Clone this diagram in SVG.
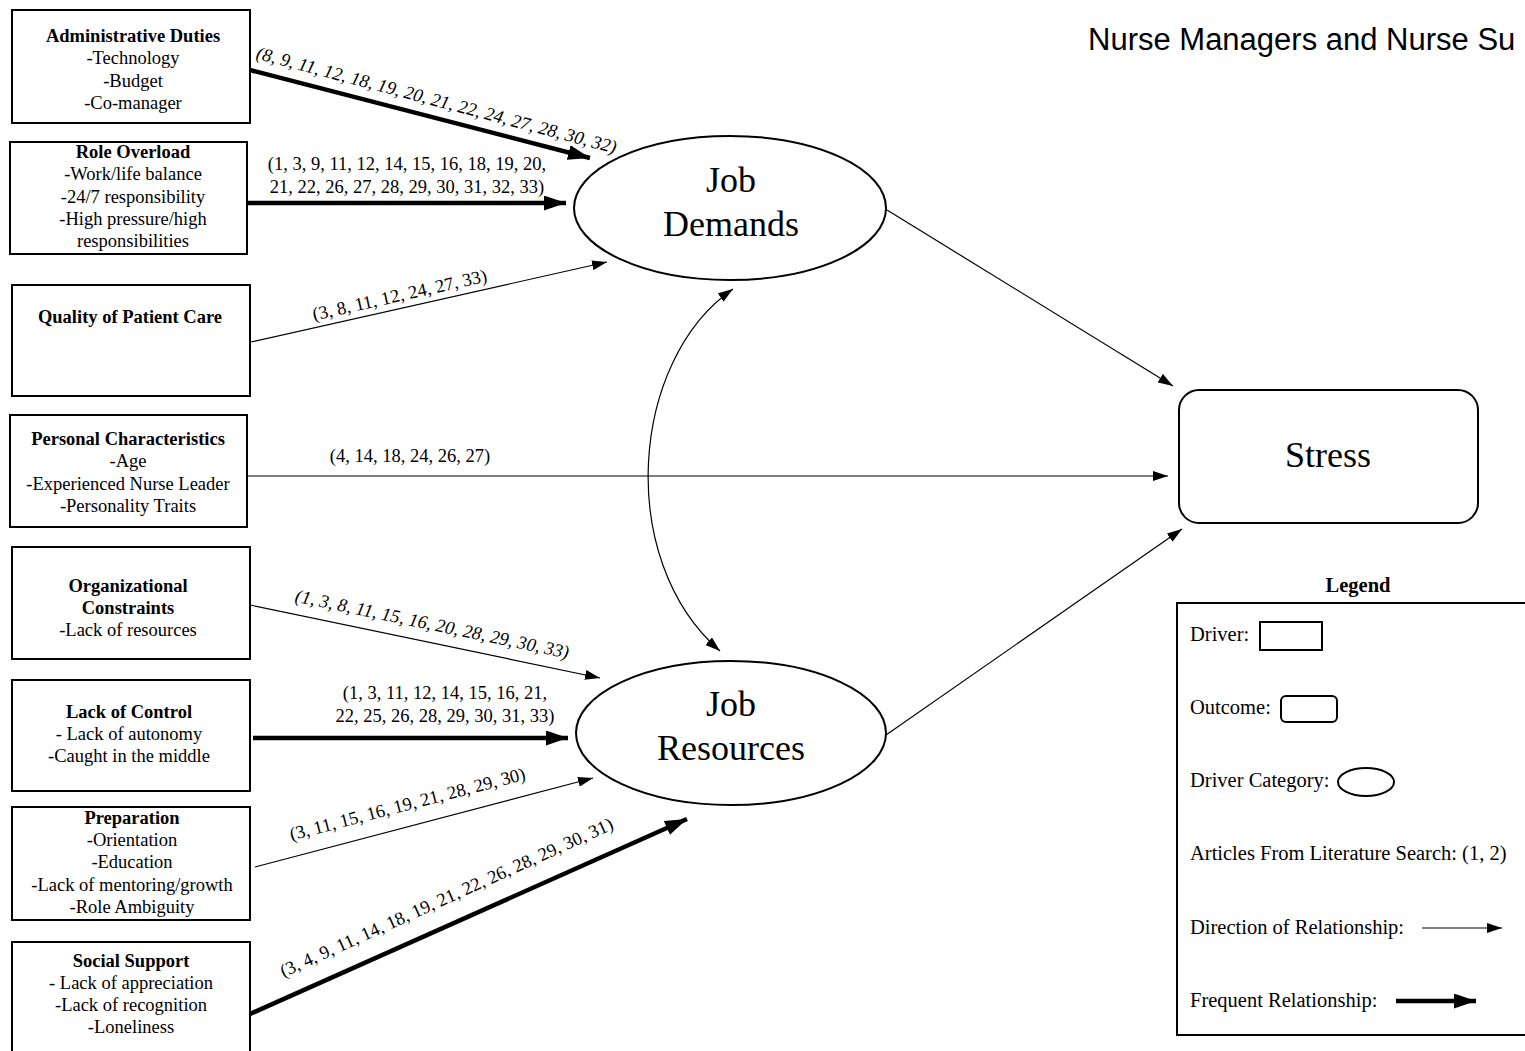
<svg xmlns="http://www.w3.org/2000/svg" width="1525" height="1051" viewBox="0 0 1525 1051">
<style>
  .box { fill: #fff; stroke: #000; stroke-width: 2; }
  .t { font-family: "Liberation Serif", "Times New Roman", serif; font-size: 18.5px; fill: #000; text-anchor: middle; }
  .b { font-weight: bold; }
  .lab { font-family: "Liberation Serif", "Times New Roman", serif; font-size: 18.5px; fill: #000; text-anchor: middle; }
  .it { font-style: italic; }
  .lg { font-family: "Liberation Serif", "Times New Roman", serif; font-size: 20.5px; fill: #000; }
  .big { font-family: "Liberation Serif", "Times New Roman", serif; font-size: 36px; fill: #000; text-anchor: middle; }
  .thin { stroke: #000; stroke-width: 1.2; fill: none; marker-end: url(#ah); }
  .thick { stroke: #000; stroke-width: 4.5; fill: none; marker-end: url(#ahb); }
</style>
<defs>
  <marker id="ah" markerUnits="userSpaceOnUse" markerWidth="15" markerHeight="10" refX="15" refY="5" orient="auto-start-reverse">
    <path d="M0,0 L15,5 L0,10 z" fill="#000"/>
  </marker>
  <marker id="ahb" markerUnits="userSpaceOnUse" markerWidth="22" markerHeight="15" refX="22" refY="7.5" orient="auto">
    <path d="M0,0 L22,7.5 L0,15 z" fill="#000"/>
  </marker>
</defs>
<rect width="1525" height="1051" fill="#fff"/>

<text x="1088" y="50" font-family="Liberation Sans, Arial, sans-serif" font-size="31" fill="#000">Nurse Managers and Nurse Su</text>

<g id="connectors">
  <line class="thick" x1="250" y1="70" x2="590" y2="158"/>
  <line class="thick" x1="248" y1="203" x2="566" y2="203"/>
  <line class="thin" x1="251" y1="342" x2="607" y2="262"/>
  <line class="thin" x1="248" y1="476" x2="1168" y2="476" stroke="#333" stroke-width="1.4"/>
  <line class="thin" x1="887" y1="210" x2="1173" y2="386"/>
  <line class="thin" x1="250" y1="605" x2="600" y2="678"/>
  <line class="thick" x1="253" y1="738" x2="568" y2="738"/>
  <line class="thin" x1="255" y1="867" x2="593" y2="778"/>
  <line class="thick" x1="250" y1="1014" x2="687" y2="819"/>
  <line class="thin" x1="886" y1="735" x2="1182" y2="529"/>
  <path class="thin" d="M733,289 C630,360 615,560 720,651" marker-start="url(#ah)"/>

  <text class="lab it" transform="translate(435,106) rotate(14.8)">(8, 9, 11, 12, 18, 19, 20, 21, 22, 24, 27, 28, 30, 32)</text>
  <text class="lab" x="407" y="170">(1, 3, 9, 11, 12, 14, 15, 16, 18, 19, 20,</text>
  <text class="lab" x="407" y="193">21, 22, 26, 27, 28, 29, 30, 31, 32, 33)</text>
  <text class="lab" transform="translate(401,301) rotate(-12.7)">(3, 8, 11, 12, 24, 27, 33)</text>
  <text class="lab" x="410" y="462">(4, 14, 18, 24, 26, 27)</text>
  <text class="lab it" transform="translate(431,630) rotate(11.8)">(1, 3, 8, 11, 15, 16, 20, 28, 29, 30, 33)</text>
  <text class="lab" x="445" y="699">(1, 3, 11, 12, 14, 15, 16, 21,</text>
  <text class="lab" x="445" y="722">22, 25, 26, 28, 29, 30, 31, 33)</text>
  <text class="lab" transform="translate(409,810) rotate(-14.6)">(3, 11, 15, 16, 19, 21, 28, 29, 30)</text>
  <text class="lab" transform="translate(449,903) rotate(-24.2)">(3, 4, 9, 11, 14, 18, 19, 21, 22, 26, 28, 29, 30, 31)</text>
</g>

<g id="admin">
  <rect class="box" x="12" y="10" width="238" height="113"/>
  <text class="t b" x="133" y="42">Administrative Duties</text>
  <text class="t" x="133" y="64">-Technology</text>
  <text class="t" x="133" y="87">-Budget</text>
  <text class="t" x="133" y="109">-Co-manager</text>
</g>
<g id="role-overload">
  <rect class="box" x="10" y="142" width="237" height="112"/>
  <text class="t b" x="133" y="158">Role Overload</text>
  <text class="t" x="133" y="180">-Work/life balance</text>
  <text class="t" x="133" y="203">-24/7 responsibility</text>
  <text class="t" x="133" y="225">-High pressure/high</text>
  <text class="t" x="133" y="247">responsibilities</text>
</g>
<g id="quality">
  <rect class="box" x="12" y="285" width="238" height="111"/>
  <text class="t b" x="130" y="323">Quality of Patient Care</text>
</g>
<g id="personal">
  <rect class="box" x="10" y="415" width="237" height="112"/>
  <text class="t b" x="128" y="445">Personal Characteristics</text>
  <text class="t" x="128" y="467">-Age</text>
  <text class="t" x="128" y="490">-Experienced Nurse Leader</text>
  <text class="t" x="128" y="512">-Personality Traits</text>
</g>
<g id="org">
  <rect class="box" x="12" y="547" width="238" height="112"/>
  <text class="t b" x="128" y="592">Organizational</text>
  <text class="t b" x="128" y="614">Constraints</text>
  <text class="t" x="128" y="636">-Lack of resources</text>
</g>
<g id="control">
  <rect class="box" x="12" y="680" width="238" height="111"/>
  <text class="t b" x="129" y="718">Lack of Control</text>
  <text class="t" x="129" y="740">- Lack of autonomy</text>
  <text class="t" x="129" y="762">-Caught in the middle</text>
</g>
<g id="preparation">
  <rect class="box" x="12" y="807" width="238" height="113"/>
  <text class="t b" x="132" y="824">Preparation</text>
  <text class="t" x="132" y="846">-Orientation</text>
  <text class="t" x="132" y="868">-Education</text>
  <text class="t" x="132" y="891">-Lack of mentoring/growth</text>
  <text class="t" x="132" y="913">-Role Ambiguity</text>
</g>
<g id="social">
  <rect class="box" x="12" y="942" width="238" height="120"/>
  <text class="t b" x="131" y="967">Social Support</text>
  <text class="t" x="131" y="989">- Lack of appreciation</text>
  <text class="t" x="131" y="1011">-Lack of recognition</text>
  <text class="t" x="131" y="1033">-Loneliness</text>
</g>

<g id="job-demands">
  <ellipse class="box" cx="730" cy="208" rx="156" ry="72"/>
  <text class="big" x="731" y="192">Job</text>
  <text class="big" x="731" y="236">Demands</text>
</g>
<g id="job-resources">
  <ellipse class="box" cx="731" cy="733" rx="155" ry="72"/>
  <text class="big" x="731" y="716">Job</text>
  <text class="big" x="731" y="760">Resources</text>
</g>
<g id="stress">
  <rect class="box" x="1179" y="390" width="299" height="133" rx="20"/>
  <text class="big" x="1328" y="467">Stress</text>
</g>

<g id="legend">
  <text class="lg b" x="1358" y="592" text-anchor="middle">Legend</text>
  <rect class="box" x="1177" y="603" width="360" height="432"/>
  <text class="lg" x="1190" y="641">Driver:</text>
  <rect class="box" x="1260" y="622" width="62" height="28" stroke-width="1.6"/>
  <text class="lg" x="1190" y="714">Outcome:</text>
  <rect class="box" x="1281" y="696" width="56" height="26" rx="5" stroke-width="1.6"/>
  <text class="lg" x="1190" y="787">Driver Category:</text>
  <ellipse class="box" cx="1366" cy="782" rx="28" ry="14" stroke-width="1.6"/>
  <text class="lg" x="1190" y="860">Articles From Literature Search: (1, 2)</text>
  <text class="lg" x="1190" y="934">Direction of Relationship:</text>
  <line class="thin" x1="1422" y1="928" x2="1502" y2="928" marker-end="url(#ah)"/>
  <text class="lg" x="1190" y="1007">Frequent Relationship:</text>
  <line class="thick" x1="1396" y1="1001" x2="1476" y2="1001"/>
</g>
</svg>
